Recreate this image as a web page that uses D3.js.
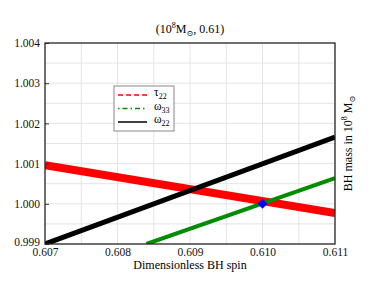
<!DOCTYPE html>
<html>
<head>
<meta charset="utf-8">
<script src="https://cdn.jsdelivr.net/npm/d3@7"></script>
<style>
  body { margin: 0; background: #fff; }
  text { font-family: "Liberation Serif", "DejaVu Serif", serif; }
</style>
</head>
<body>
<script>
// values
var spinTicks = [0.607, 0.608, 0.609, 0.610, 0.611];
var massTicks = [0.999, 1.000, 1.001, 1.002, 1.003, 1.004];
var tau22 = [[0.607, 1.00096], [0.611, 0.99977]];
var omega33 = [[0.6084, 0.999], [0.611, 1.00064]];
var omega22 = [[0.607, 0.999], [0.611, 1.00166]];
var truth = [0.610, 1.000];

var W = 374, H = 289;
var margin = {top: 43, right: 39, bottom: 45, left: 45};
var width = W - margin.left - margin.right,
  height = H - margin.top - margin.bottom;

var svg = d3.select("body").append("svg")
  .attr("width", W).attr("height", H);

var defs = svg.append("defs");
defs.append("clipPath").attr("id", "clip")
  .append("rect").attr("width", width).attr("height", height);

var g = svg.append("g")
  .attr("transform", `translate(${margin.left},${margin.top})`);

var x = d3.scaleLinear().domain([0.607, 0.611]).range([0, width]);
var y = d3.scaleLinear().domain([0.999, 1.004]).range([height, 0]);

// grid every 0.0005
var gx = d3.range(0.6075, 0.611, 0.0005);
var gy = d3.range(0.9995, 1.004, 0.0005);
g.selectAll(".gx").data(gx).enter().append("line")
  .attr("x1", d => x(d)).attr("x2", d => x(d))
  .attr("y1", 0).attr("y2", height)
  .attr("stroke", "#e4e4e4").attr("stroke-width", 1);
g.selectAll(".gy").data(gy).enter().append("line")
  .attr("y1", d => y(d)).attr("y2", d => y(d))
  .attr("x1", 0).attr("x2", width)
  .attr("stroke", "#e4e4e4").attr("stroke-width", 1);

var line = d3.line().x(d => x(d[0])).y(d => y(d[1]));
var plot = g.append("g").attr("clip-path", "url(#clip)");

plot.append("path").attr("d", line(tau22))
  .attr("stroke", "#ff0000").attr("stroke-width", 8).attr("fill", "none");
plot.append("path").attr("d", line(omega33))
  .attr("stroke", "#008c00").attr("stroke-width", 4).attr("fill", "none");
plot.append("path").attr("d", line(omega22))
  .attr("stroke", "#000").attr("stroke-width", 5).attr("fill", "none");

// true value marker
g.append("path")
  .attr("d", d3.symbol(d3.symbolSquare, 50)())
  .attr("transform", `translate(${x(truth[0])},${y(truth[1])}) rotate(45)`)
  .attr("fill", "#0000ff");

// axes
var xAxis = g.append("g").attr("transform", `translate(0,${height})`)
  .call(d3.axisBottom(x).tickValues(spinTicks).tickFormat(d3.format(".3f")).tickSize(0).tickPadding(4));
var yAxis = g.append("g")
  .call(d3.axisLeft(y).tickValues(massTicks).tickFormat(d3.format(".3f")).tickSize(4).tickPadding(1));
[xAxis, yAxis].forEach(function (a) {
  a.select(".domain").remove();
  a.selectAll("text").attr("font-size", 11.5).attr("font-family", "Liberation Serif").attr("fill", "#111");
  a.selectAll("line").attr("stroke", "#333");
});
yAxis.selectAll("line").attr("transform", "translate(4,0)");
// bottom-left label sits a bit higher, as in the original
yAxis.selectAll(".tick").filter(d => d === 0.999).select("text").attr("dy", "0.1em");

g.append("rect").attr("width", width).attr("height", height)
  .attr("fill", "none").attr("stroke", "#222").attr("stroke-width", 1.3);

// labels
svg.append("text").attr("x", margin.left + width / 2).attr("y", H - 20)
  .attr("text-anchor", "middle").attr("font-size", 12).text("Dimensionless BH spin");

var title = svg.append("text").attr("x", margin.left + width / 2).attr("y", 33)
  .attr("text-anchor", "middle").attr("font-size", 12);
title.append("tspan").text("(10");
title.append("tspan").attr("dy", -5).attr("font-size", 8).text("8");
title.append("tspan").attr("dy", 5).text("M");
title.append("tspan").attr("dy", 3).attr("font-size", 8).text("\u2299");
title.append("tspan").attr("dy", -3).text(", 0.61)");

var ylab = svg.append("text")
  .attr("transform", `translate(352,${margin.top + height / 2}) rotate(-90)`)
  .attr("text-anchor", "middle").attr("font-size", 12);
ylab.append("tspan").text("BH mass in 10");
ylab.append("tspan").attr("dy", -5).attr("font-size", 8).text("8");
ylab.append("tspan").attr("dy", 5).text(" M");
ylab.append("tspan").attr("dy", 3).attr("font-size", 8).text("\u2299");

// legend
var legendItems = [
  {name: "\u03c4", sub: "22", color: "#ff0000", dash: "5,3"},
  {name: "\u03c9", sub: "33", color: "#008c00", dash: "1.5,3,5,3"},
  {name: "\u03c9", sub: "22", color: "#000", dash: null}
];
var lg = svg.append("g").attr("transform", "translate(114,86)");
lg.append("rect").attr("width", 60).attr("height", 45)
  .attr("fill", "#fff").attr("stroke", "#888").attr("stroke-width", 1);
var item = lg.selectAll(".item").data(legendItems).enter().append("g")
  .attr("transform", (d, i) => `translate(0,${9 + i * 13.5})`);
item.append("line").attr("x1", 4).attr("x2", 33)
  .attr("stroke", d => d.color).attr("stroke-width", 1.5)
  .attr("stroke-dasharray", d => d.dash);
var lt = item.append("text").attr("x", 40).attr("y", 1).attr("font-size", 11.5);
lt.append("tspan").text(d => d.name);
lt.append("tspan").attr("dy", 3).attr("font-size", 8).text(d => d.sub);
</script>
</body>
</html>
